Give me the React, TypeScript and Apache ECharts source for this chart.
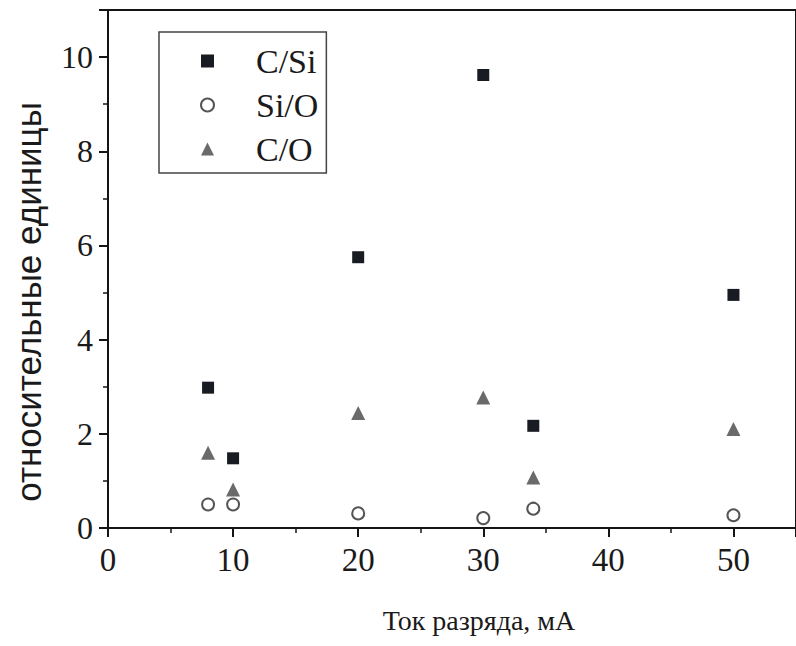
import React, { useEffect, useRef } from "react";
import * as echarts from "echarts";

const currents = [8, 10, 20, 30, 34, 50];
const cSi = [2.98, 1.48, 5.75, 9.62, 2.17, 4.95];
const siO = [0.5, 0.5, 0.31, 0.21, 0.41, 0.27];
const cO = [1.6, 0.82, 2.44, 2.77, 1.07, 2.1];
const seriesNames = ["C/Si", "Si/O", "C/O"];
const xTitle = "Ток разряда, мА";
const yTitle = "относительные единицы";

const serif = "Liberation Serif";
const sans = "Liberation Sans";

export default function App() {
  const ref = useRef<HTMLDivElement>(null);
  useEffect(() => {
    if (!ref.current) return;
    const chart = echarts.init(ref.current, undefined, { renderer: "svg" });
    const pair = (ys: number[]) => currents.map((x, i) => [x, ys[i]]);
    const tickLabel = (size: number, margin: number) => ({
      showMaxLabel: false,
      margin,
      fontFamily: serif,
      fontSize: size,
      color: "#1a1a1a",
    });
    chart.setOption({
      animation: false,
      backgroundColor: "#ffffff",
      textStyle: { fontFamily: serif },
      grid: {
        left: 108,
        right: -8,
        top: 10,
        bottom: 118,
        show: true,
        borderColor: "#151515",
        borderWidth: 2,
        backgroundColor: "transparent",
      },
      legend: {
        orient: "vertical",
        left: 159,
        top: 32,
        data: seriesNames,
        itemWidth: 13,
        itemHeight: 13,
        itemGap: 10,
        padding: [12, 8, 7, 41],
        borderColor: "#444",
        borderWidth: 1.5,
        selectedMode: false,
        textStyle: {
          fontFamily: serif,
          fontSize: 34,
          color: "#1a1a1a",
          lineHeight: 34,
          padding: [0, 0, 0, 37],
        },
      },
      xAxis: {
        type: "value",
        min: 0,
        max: 55,
        interval: 10,
        axisLine: { show: true, onZero: false, lineStyle: { color: "#151515", width: 2 } },
        axisTick: { show: true, inside: false, length: 9, lineStyle: { color: "#151515", width: 2 } },
        minorTick: { show: true, splitNumber: 2, length: 5, lineStyle: { color: "#151515", width: 1.5 } },
        splitLine: { show: false },
        axisLabel: tickLabel(33, 15),
      },
      yAxis: {
        type: "value",
        min: 0,
        max: 11,
        interval: 2,
        axisLine: { show: true, onZero: false, lineStyle: { color: "#151515", width: 2 } },
        axisTick: { show: true, inside: false, length: 9, lineStyle: { color: "#151515", width: 2 } },
        minorTick: { show: true, splitNumber: 2, length: 5, lineStyle: { color: "#151515", width: 1.5 } },
        splitLine: { show: false },
        axisLabel: tickLabel(32, 15),
      },
      graphic: [
        {
          type: "text",
          x: 479,
          y: 620,
          style: {
            text: xTitle,
            fontFamily: serif,
            fontSize: 28,
            fill: "#1a1a1a",
            align: "center",
            verticalAlign: "middle",
          },
        },
        {
          type: "text",
          x: 28,
          y: 302,
          rotation: Math.PI / 2,
          style: {
            text: yTitle,
            fontFamily: sans,
            fontSize: 35,
            fill: "#1a1a1a",
            align: "center",
            verticalAlign: "middle",
          },
        },
      ],
      series: [
        {
          name: seriesNames[0],
          type: "scatter",
          symbol: "rect",
          symbolSize: 12,
          itemStyle: { color: "#181b22", opacity: 1 },
          data: pair(cSi),
        },
        {
          name: seriesNames[1],
          type: "scatter",
          symbol: "emptyCircle",
          symbolSize: 12,
          itemStyle: { color: "#555555", borderWidth: 1.3, opacity: 1 },
          data: pair(siO),
        },
        {
          name: seriesNames[2],
          type: "scatter",
          symbol: "triangle",
          symbolSize: 14,
          itemStyle: { color: "#6a6a6a", opacity: 1 },
          data: pair(cO),
        },
      ],
    });
    return () => chart.dispose();
  }, []);
  return (
    <div
      ref={ref}
      style={{ position: "fixed", left: 0, top: 0, width: 796, height: 646, background: "#fff" }}
    />
  );
}
